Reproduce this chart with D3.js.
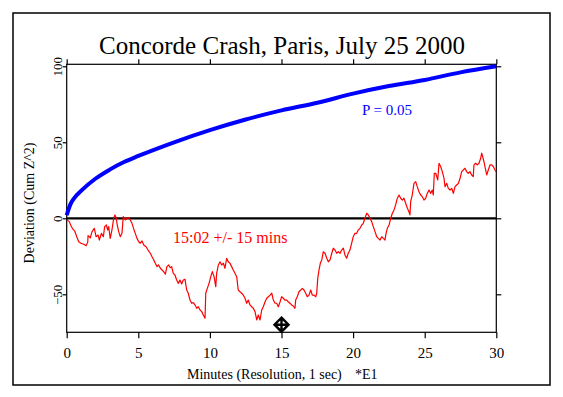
<!DOCTYPE html>
<html>
<head>
<meta charset="utf-8">
<script src="https://cdn.jsdelivr.net/npm/d3@7"></script>
<style>
  body { margin: 0; background: #fff; }
  svg { display: block; font-family: "Liberation Serif", "DejaVu Serif", serif; }
</style>
</head>
<body>
<div id="chart"></div>
<script>
// envelope for P = 0.05
const envMinutes = [0, 0.25, 0.5, 1, 2, 3, 4, 5, 7.5, 10, 12.5, 15, 17.5, 20, 22.5, 25, 27.5, 30];
const envValues  = [2, 9, 13, 18, 26, 32, 37, 41, 50, 58, 65, 71, 76, 82, 87, 91, 96, 100];

// cumulative deviation (red trace), minutes / Cum Z^2
const devMinutes = [
  0.02, 0.18, 0.30, 0.42, 0.56, 0.70, 0.84, 1.00, 1.19, 1.35, 1.47, 1.49, 1.65, 1.77, 1.93, 2.05, 2.19, 2.28, 2.42, 2.56,
  2.65, 2.77, 2.86, 2.93, 3.04, 3.16, 3.28, 3.37, 3.46, 3.53, 3.63, 3.74, 3.86, 3.95, 4.09, 4.21, 4.33, 4.44, 4.56, 4.68,
  4.79, 4.91, 5.03, 5.14, 5.26, 5.38, 5.54, 5.68, 5.84, 5.96, 6.08, 6.19, 6.31, 6.42, 6.54, 6.66, 6.77, 6.89, 7.00, 7.12,
  7.23, 7.33, 7.44, 7.56, 7.68, 7.79, 7.91, 8.03, 8.14, 8.26, 8.38, 8.49, 8.61, 8.73, 8.84, 8.96, 9.08, 9.19, 9.31, 9.43,
  9.54, 9.66, 9.71, 9.82, 9.94, 10.06, 10.17, 10.29, 10.41, 10.47, 10.59, 10.71, 10.82, 10.94, 11.05, 11.17, 11.28, 11.40, 11.52, 11.63,
  11.75, 11.87, 11.98, 12.10, 12.22, 12.33, 12.45, 12.57, 12.68, 12.80, 12.92, 13.03, 13.15, 13.27, 13.38, 13.50, 13.62, 13.73, 13.85, 13.97,
  14.08, 14.20, 14.32, 14.43, 14.55, 14.66, 14.78, 14.90, 15.01, 15.13, 15.24, 15.36, 15.47, 15.59, 15.71, 15.82, 15.94, 15.99, 16.10, 16.22,
  16.34, 16.45, 16.57, 16.69, 16.80, 16.92, 17.04, 17.15, 17.27, 17.39, 17.46, 17.53, 17.62, 17.71, 17.81, 17.92, 18.04, 18.16, 18.27, 18.39,
  18.51, 18.62, 18.74, 18.85, 18.97, 19.09, 19.20, 19.32, 19.43, 19.55, 19.66, 19.78, 19.90, 20.01, 20.13, 20.25, 20.36, 20.48, 20.60, 20.71,
  20.83, 20.95, 21.06, 21.18, 21.30, 21.41, 21.53, 21.65, 21.76, 21.88, 22.00, 22.11, 22.23, 22.30, 22.39, 22.51, 22.63, 22.74, 22.86, 22.97,
  23.09, 23.21, 23.32, 23.44, 23.55, 23.67, 23.79, 23.90, 23.97, 24.02, 24.13, 24.25, 24.37, 24.48, 24.60, 24.72, 24.83, 24.95, 25.07, 25.18,
  25.30, 25.42, 25.53, 25.60, 25.67, 25.77, 25.84, 25.91, 26.00, 26.12, 26.23, 26.35, 26.42, 26.54, 26.65, 26.77, 26.89, 27.00, 27.12, 27.23,
  27.35, 27.47, 27.58, 27.70, 27.81, 27.93, 28.04, 28.16, 28.28, 28.39, 28.44, 28.56, 28.67, 28.79, 28.91, 28.98, 29.05, 29.14, 29.21, 29.33,
  29.44, 29.56, 29.68, 29.80, 29.91, 29.98
];
const devValues = [
  -1.1, -2.2, -4.9, -7.0, -8.4, -12.1, -15.4, -16.4, -17.1, -18.0, -15.8, -11.4, -12.8, -8.8, -6.6, -12.1, -11.0, -14.3, -9.9, -12.1,
  -5.5, -4.4, -7.7, -5.5, -13.2, -7.7, 0, 2.2, 0, -4.4, -8.8, -12.1, -9.9, 1.1, -1.1, 0, 0.4, -1.1, -3.3, -7.0,
  -9.9, -13.2, -15.4, -16.4, -14.9, -17.6, -18.7, -20.9, -23.0, -25.3, -27.4, -29.6, -31.8, -30.7, -32.9, -34.0, -35.1, -36.8, -31.8, -30.7,
  -32.5, -31.8, -36.2, -37.3, -40.6, -42.8, -40.6, -43.2, -40.6, -40.1, -47.2, -49.3, -53.8, -55.9, -55.5, -57.0, -59.2, -58.2, -60.3, -61.4,
  -63.6, -65.8, -49.3, -46.1, -42.8, -38.4, -35.1, -38.4, -45.0, -36.2, -30.7, -28.6, -30.7, -29.6, -32.9, -26.3, -28.6, -29.6, -31.8, -34.0,
  -36.2, -38.4, -47.2, -48.3, -49.3, -50.5, -52.6, -55.9, -53.8, -57.0, -58.2, -59.2, -61.4, -66.9, -63.6, -66.9, -60.3, -58.2, -54.9, -52.6,
  -51.6, -50.5, -49.3, -53.8, -55.9, -55.9, -58.2, -54.9, -51.6, -52.6, -53.8, -53.8, -54.9, -55.9, -57.0, -57.7, -59.2, -53.8, -51.6, -48.3,
  -47.2, -46.1, -47.2, -49.3, -51.6, -50.5, -47.2, -50.5, -50.5, -51.6, -49.3, -39.5, -34.0, -29.6, -27.4, -22.0, -23.0, -26.3, -28.6, -27.4,
  -23.0, -19.7, -20.9, -23.0, -22.0, -23.0, -20.9, -19.7, -24.1, -26.3, -23.0, -20.9, -16.4, -12.1, -9.9, -9.9, -7.7, -6.6, -4.4, -3.3,
  0, 3.3, 2.2, 0, -2.2, -5.5, -8.8, -12.1, -13.2, -14.3, -12.1, -13.2, -14.3, -9.9, -6.6, -4.4, 0, 3.3, 5.5, 8.8,
  13.2, 15.3, 13.2, 12.0, 13.2, 9.9, 6.6, 4.3, 2.2, 10.9, 15.3, 23.0, 24.1, 20.8, 17.5, 15.3, 14.2, 12.0, 13.2, 16.4,
  18.6, 16.4, 18.6, 15.3, 29.6, 29.6, 27.4, 25.2, 36.2, 33.9, 30.7, 26.3, 20.8, 23.0, 19.7, 18.6, 19.7, 16.4, 20.8, 21.9,
  23.0, 26.3, 30.7, 31.8, 32.9, 30.7, 29.6, 30.7, 28.5, 27.4, 35.1, 36.2, 35.1, 36.2, 39.5, 42.8, 40.5, 37.2, 33.9, 28.5,
  31.8, 35.1, 35.1, 33.9, 31.8, 30.7
];

const xTicks = [0, 5, 10, 15, 20, 25, 30];
const yTicks = [100, 50, 0, -50];
const eventMinute = 15;
const eventValue = -70;

const width = 563, height = 397;

const svg = d3.select("#chart").append("svg")
    .attr("width", width)
    .attr("height", height);

// outer border
svg.append("rect")
    .attr("x", 13).attr("y", 13)
    .attr("width", 537).attr("height", 372)
    .attr("fill", "none").attr("stroke", "#000").attr("stroke-width", 1.5);

const x = d3.scaleLinear().domain([0, 30]).range([66.7, 496.3]);
const y = d3.scaleLinear().domain([-75, 101.3]).range([332.3, 64.3]);

// plot frame
svg.append("rect")
    .attr("x", x(0)).attr("y", y(101.3))
    .attr("width", x(30) - x(0)).attr("height", y(-75) - y(101.3))
    .attr("fill", "none").attr("stroke", "#000").attr("stroke-width", 1.2);

const fixAxis = g => {
    g.select(".domain").remove();
    g.selectAll(".tick line").attr("stroke", "#000").attr("stroke-width", 1.2);
};

svg.append("g")
    .attr("transform", `translate(0,${y(-75)})`)
    .call(d3.axisBottom(x).tickValues(xTicks).tickSize(6).tickPadding(9).tickFormat(d3.format("d")))
    .call(fixAxis)
    .call(g => g.selectAll(".tick text")
        .attr("font-family", "Liberation Serif, serif")
        .attr("font-size", 15).attr("fill", "#000"));

svg.append("g")
    .attr("transform", `translate(0,${y(101.3)})`)
    .call(d3.axisTop(x).tickValues(xTicks).tickSize(5).tickFormat(""))
    .call(fixAxis);

svg.append("g")
    .attr("transform", `translate(${x(0)},0)`)
    .call(d3.axisLeft(y).tickValues(yTicks).tickSize(4).tickFormat(d3.format("d")))
    .call(fixAxis)
    .call(g => g.selectAll(".tick text")
        .attr("transform", "rotate(-90)")
        .attr("x", 0).attr("y", -5).attr("dy", 0)
        .attr("text-anchor", "middle")
        .attr("font-family", "Liberation Serif, serif")
        .attr("font-size", 13).attr("fill", "#000"));

svg.append("g")
    .attr("transform", `translate(${x(30)},0)`)
    .call(d3.axisRight(y).tickValues(yTicks).tickSize(5).tickFormat(""))
    .call(fixAxis);

// zero line
svg.append("line")
    .attr("x1", x(0)).attr("x2", x(30))
    .attr("y1", y(0)).attr("y2", y(0))
    .attr("stroke", "#000").attr("stroke-width", 2.2);

// envelope
const envLine = d3.line()
    .x((d, i) => x(envMinutes[i]))
    .y(d => y(d))
    .curve(d3.curveMonotoneX);

svg.append("path")
    .datum(envValues)
    .attr("d", envLine)
    .attr("fill", "none")
    .attr("stroke", "#0000ff")
    .attr("stroke-width", 4);

// cumulative deviation
const devLine = d3.line()
    .x((d, i) => x(devMinutes[i]))
    .y(d => y(d));

svg.append("path")
    .datum(devValues)
    .attr("d", devLine)
    .attr("fill", "none")
    .attr("stroke", "#ff0000")
    .attr("stroke-width", 1.2)
    .attr("stroke-linejoin", "round");

// event marker
svg.append("path")
    .attr("transform", `translate(${x(eventMinute)},${y(eventValue)})`)
    .attr("d", "M0,-7L7,0L0,7L-7,0Z M-7,0H7 M0,-7V7")
    .attr("fill", "none")
    .attr("stroke", "#000")
    .attr("stroke-width", 2.4);

// labels
svg.append("text")
    .attr("x", 282).attr("y", 54)
    .attr("text-anchor", "middle")
    .attr("font-size", 25)
    .text("Concorde Crash, Paris, July 25 2000");

svg.append("text")
    .attr("x", 187).attr("y", 379)
    .attr("font-size", 14)
    .text("Minutes (Resolution, 1 sec)");

svg.append("text")
    .attr("x", 355).attr("y", 379)
    .attr("font-size", 14)
    .text("*E1");

svg.append("text")
    .attr("transform", "translate(34,203) rotate(-90)")
    .attr("text-anchor", "middle")
    .attr("font-size", 14)
    .text("Deviation (Cum Z^2)");

svg.append("text")
    .attr("x", 173).attr("y", 243)
    .attr("font-size", 16)
    .attr("fill", "#ff0000")
    .text("15:02 +/- 15 mins");

svg.append("text")
    .attr("x", 362).attr("y", 115)
    .attr("font-size", 15)
    .attr("fill", "#0000ff")
    .text("P = 0.05");
</script>
</body>
</html>
